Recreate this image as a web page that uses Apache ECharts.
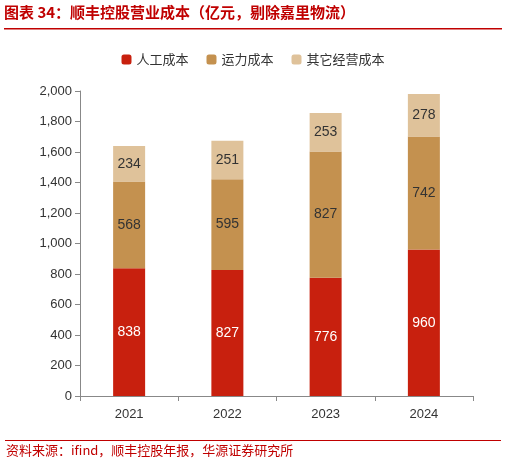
<!DOCTYPE html><html><head><meta charset="utf-8"><script src="https://cdn.jsdelivr.net/npm/echarts@6/dist/echarts.min.js"></script></head><body style="margin:0"><div id="c" style="width:506px;height:474px"></div><script>
const years=['2021','2022','2023','2024'];
const labor=[838,827,776,960];
const transport=[568,595,827,742];
const other=[234,251,253,278];
const names=['人工成本','运力成本','其它经营成本'];
const colors=['#C8200E','#C4914F','#DFC29A'];
const ch=echarts.init(document.getElementById('c'));
const f='"Noto Sans CJK SC"';
ch.setOption({
 animation:false,
 graphic:[
  {type:'text',left:4,top:5,style:{text:'图表 34：顺丰控股营业成本（亿元，剔除嘉里物流）',fill:'#C00000',font:'bold 15px '+f}},
  {type:'rect',shape:{x:4,y:28,width:498,height:1.5},style:{fill:'#C00000'}},
  {type:'rect',shape:{x:5,y:440,width:496,height:1},style:{fill:'#C00000'}},
  {type:'text',left:6,top:444,style:{text:'资料来源：ifind，顺丰控股年报，华源证券研究所',fill:'#C00000',font:'13px '+f}}
 ],
 legend:{top:48,left:'center',itemWidth:10,itemHeight:10,itemGap:18,textStyle:{fontFamily:f,fontSize:13,color:'#333'},data:names},
 grid:{left:80,right:33,top:91,bottom:78},
 xAxis:{type:'category',data:years,axisTick:{show:true,inside:false,length:5,lineStyle:{color:'#888'}},axisLine:{lineStyle:{color:'#888'}},axisLabel:{color:'#333',fontSize:13,margin:12}},
 yAxis:{type:'value',min:0,max:2000,interval:200,splitLine:{show:false},axisLine:{show:true,lineStyle:{color:'#888'}},axisTick:{show:true,length:5,lineStyle:{color:'#888'}},
  axisLabel:{color:'#333',fontSize:13,formatter:v=>v.toLocaleString('en-US')}},
 series:[labor,transport,other].map((d,i)=>({name:names[i],type:'bar',stack:'a',data:d,barWidth:32,itemStyle:{color:colors[i]},
  label:{show:true,position:'inside',fontSize:14,color:i==0?'#fff':'#333'}}))
});
</script></body></html>
